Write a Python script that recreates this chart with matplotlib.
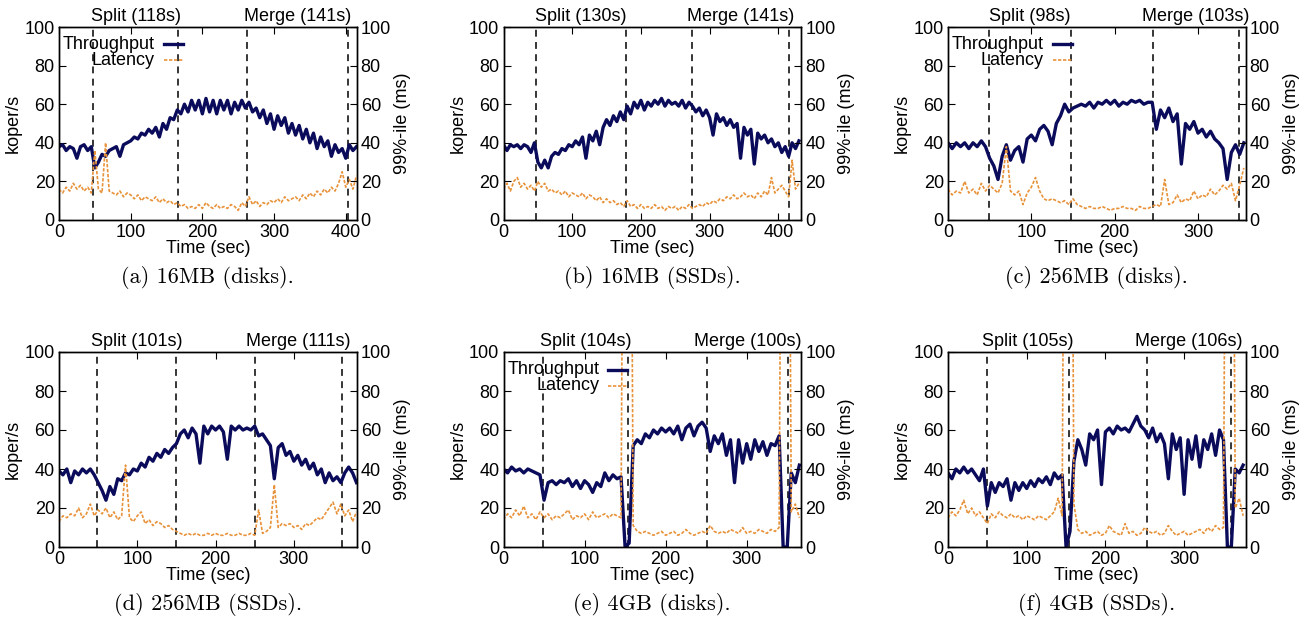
import numpy as np
import matplotlib
matplotlib.use('Agg')
import matplotlib.pyplot as plt
import matplotlib.transforms as mtransforms

plt.rcParams['font.family'] = ['Liberation Sans', 'DejaVu Sans']
plt.rcParams['font.size'] = 13

NAVY = '#0b0b5c'
ORANGE = '#e8923a'
STEP = 5  # seconds between samples

# (a) 16MB (disks)
thr_a = [38, 39, 36, 38, 37, 32, 38, 39, 36, 38, 27, 30, 34, 33, 36, 37, 38, 33, 39, 40,
         41, 43, 42, 45, 44, 47, 45, 48, 43, 50, 47, 53, 52, 57, 55, 60, 56, 62, 57, 62,
         55, 63, 56, 62, 55, 62, 57, 62, 55, 61, 57, 62, 58, 61, 56, 58, 53, 57, 50, 55,
         47, 54, 49, 53, 45, 50, 44, 49, 42, 47, 40, 45, 37, 43, 38, 41, 33, 39, 35, 37,
         32, 39, 36, 38]
lat_a = [16, 14, 17, 15, 19, 16, 18, 15, 17, 14, 36, 16, 14, 40, 15, 14, 13, 15, 12, 14,
         13, 11, 13, 10, 12, 11, 10, 12, 9, 11, 9, 10, 8, 9, 7, 8, 6, 7, 6, 8,
         6, 9, 7, 6, 8, 6, 7, 6, 8, 7, 5, 9, 7, 12, 8, 10, 7, 9, 8, 10,
         9, 11, 9, 12, 10, 11, 12, 10, 13, 11, 14, 12, 15, 13, 16, 14, 17, 15, 19, 25,
         17, 21, 16, 23]

# (b) 16MB (SSDs)
thr_b = [39, 36, 39, 38, 39, 37, 39, 38, 35, 40, 30, 27, 31, 27, 33, 35, 34, 37, 36, 39,
         38, 41, 39, 43, 32, 44, 41, 46, 39, 48, 52, 49, 54, 51, 56, 52, 59, 55, 61, 58,
         62, 57, 61, 59, 62, 60, 63, 59, 62, 60, 61, 59, 62, 58, 61, 59, 56, 58, 54, 57,
         53, 44, 55, 51, 53, 49, 52, 48, 50, 32, 48, 44, 47, 29, 45, 42, 44, 40, 42, 38,
         40, 35, 38, 33, 40, 37, 41]
lat_b = [16, 19, 15, 20, 22, 17, 19, 16, 18, 15, 20, 17, 19, 15, 16, 14, 15, 13, 15, 12,
         14, 13, 12, 14, 11, 13, 12, 10, 12, 9, 11, 9, 10, 8, 9, 7, 10, 7, 8, 6,
         8, 6, 7, 6, 8, 6, 7, 5, 7, 6, 7, 5, 7, 6, 8, 6, 7, 8, 7, 9,
         8, 10, 9, 11, 10, 12, 11, 13, 11, 12, 14, 12, 13, 11, 14, 12, 15, 13, 22, 14,
         16, 18, 15, 12, 31, 16, 19]

# (c) 256MB (disks)
thr_c = [40, 37, 40, 38, 40, 37, 40, 38, 41, 38, 32, 28, 21, 33, 39, 31, 36, 38, 30, 42,
         44, 41, 47, 49, 46, 39, 50, 54, 60, 56, 58, 59, 60, 59, 61, 58, 61, 60, 62, 60,
         62, 59, 61, 60, 62, 61, 62, 60, 61, 61, 47, 57, 53, 58, 51, 55, 29, 50, 47, 51,
         45, 47, 43, 46, 42, 40, 37, 21, 35, 39, 34, 40]
lat_c = [16, 13, 15, 14, 20, 14, 16, 13, 19, 15, 18, 16, 14, 19, 38, 15, 13, 15, 8, 14,
         17, 22, 15, 11, 10, 11, 10, 9, 10, 8, 11, 8, 7, 6, 7, 6, 6, 7, 6, 5,
         6, 6, 7, 6, 6, 5, 7, 6, 6, 7, 8, 7, 21, 8, 9, 13, 9, 11, 10, 15,
         11, 13, 12, 16, 13, 15, 18, 16, 19, 10, 18, 27]

# (d) 256MB (SSDs)
thr_d = [39, 37, 40, 33, 39, 37, 40, 38, 40, 37, 33, 29, 24, 31, 27, 35, 34, 38, 37, 40,
         39, 43, 41, 46, 44, 48, 46, 50, 48, 51, 53, 58, 60, 56, 61, 58, 43, 62, 58, 62,
         60, 62, 59, 45, 62, 60, 62, 60, 61, 60, 62, 57, 58, 55, 52, 35, 51, 53, 47, 49,
         44, 47, 42, 45, 40, 43, 37, 40, 33, 38, 34, 36, 33, 38, 41, 38, 33]
lat_d = [13, 16, 15, 17, 16, 20, 15, 17, 22, 16, 19, 17, 20, 15, 18, 14, 16, 42, 15, 13,
         16, 18, 12, 14, 11, 13, 12, 10, 11, 9, 8, 7, 6, 7, 6, 7, 6, 6, 7, 6,
         7, 6, 6, 7, 6, 6, 7, 6, 6, 7, 6, 19, 7, 8, 10, 32, 10, 12, 11, 12,
         10, 11, 9, 12, 11, 13, 15, 14, 17, 20, 23, 17, 22, 16, 19, 13, 18]

# (e) 4GB (disks)
thr_e = [40, 38, 41, 39, 40, 38, 40, 39, 38, 37, 24, 33, 34, 32, 34, 33, 35, 31, 34, 30,
         34, 32, 28, 33, 31, 38, 34, 37, 35, 36, 0, 2, 52, 55, 53, 58, 56, 60, 58, 61,
         59, 61, 58, 62, 55, 61, 63, 57, 62, 64, 61, 49, 57, 53, 58, 47, 55, 33, 55, 43,
         53, 45, 55, 49, 54, 47, 53, 52, 57, 0, 0, 38, 33, 42]
lat_e = [14, 17, 15, 19, 16, 21, 15, 17, 14, 18, 15, 17, 14, 16, 15, 17, 19, 14, 16, 15,
         17, 14, 18, 15, 16, 17, 15, 17, 16, 15, 400, 400, 11, 8, 7, 8, 7, 6, 7, 8,
         6, 7, 8, 6, 7, 9, 7, 6, 7, 8, 7, 11, 8, 7, 8, 7, 9, 8, 7, 10,
         7, 8, 7, 9, 8, 7, 9, 8, 10, 400, 400, 18, 22, 15]

# (f) 4GB (SSDs)
thr_f = [38, 35, 40, 38, 41, 38, 40, 37, 34, 40, 21, 33, 28, 33, 31, 35, 24, 33, 29, 33,
         30, 34, 31, 35, 33, 36, 32, 38, 35, 37, 0, 8, 44, 55, 50, 42, 58, 55, 60, 32,
         59, 61, 58, 62, 60, 61, 59, 63, 67, 62, 60, 56, 61, 54, 58, 53, 35, 58, 50, 56,
         27, 55, 45, 57, 41, 55, 50, 58, 47, 60, 55, 0, 0, 40, 38, 42]
lat_f = [15, 18, 16, 19, 24, 17, 20, 16, 18, 15, 12, 17, 15, 18, 16, 15, 17, 15, 16, 14,
         16, 15, 14, 16, 15, 14, 16, 18, 25, 16, 400, 400, 22, 9, 7, 8, 6, 7, 8, 6,
         7, 11, 8, 7, 6, 12, 7, 8, 6, 7, 10, 8, 7, 8, 6, 7, 11, 8, 6, 7,
         8, 6, 7, 8, 9, 7, 10, 8, 11, 9, 10, 400, 400, 20, 25, 16]

throughput = [thr_a, thr_b, thr_c, thr_d, thr_e, thr_f]
latency = [lat_a, lat_b, lat_c, lat_d, lat_e, lat_f]
x_max = [415, 433, 357, 380, 367, 378]
# split start/end, merge start/end (sec)
phase_times = [[48, 166, 262, 403],
               [48, 178, 274, 415],
               [49, 147, 246, 349],
               [49, 150, 250, 361],
               [49, 153, 251, 351],
               [49, 154, 253, 359]]
split_labels = ['Split (118s)', 'Split (130s)', 'Split (98s)',
                'Split (101s)', 'Split (104s)', 'Split (105s)']
merge_labels = ['Merge (141s)', 'Merge (141s)', 'Merge (103s)',
                'Merge (111s)', 'Merge (100s)', 'Merge (106s)']
captions = ['(a) 16MB (disks).', '(b) 16MB (SSDs).', '(c) 256MB (disks).',
            '(d) 256MB (SSDs).', '(e) 4GB (disks).', '(f) 4GB (SSDs).']
with_legend = [True, False, True, False, True, False]

W, H = 1313, 627
fig = plt.figure(figsize=(W / 100, H / 100), dpi=100)

col_left = [59, 503.5, 948]
row_top = [27, 352]
row_h = [193, 195]
ax_w = 297.5


def draw_panel(ax, thr, lat, lines, xmax, split_txt, merge_txt, legend):
    ax2 = ax.twinx()
    for x in lines:
        ax.axvline(x, color='black', lw=1.1, ls=(0, (4.5, 3.5)), zorder=1)
    ax.plot(np.arange(len(thr)) * STEP, thr, color=NAVY, lw=2.4, zorder=2)
    ax2.plot(np.arange(len(lat)) * STEP, lat, color=ORANGE, lw=1.2,
             ls=(0, (2, 1)))

    for a in (ax, ax2):
        a.set_xlim(0, xmax)
        a.set_ylim(0, 100)
        a.set_yticks(range(0, 101, 20))
        for s in a.spines.values():
            s.set_linewidth(1.0)
    ax.set_xticks(range(0, int(xmax) + 1, 100))
    ax.tick_params(direction='in', length=5, width=0.8, top=True, pad=3)
    ax2.tick_params(direction='in', length=5, width=0.8, pad=3)

    ax.set_xlabel('Time (sec)', labelpad=-1)
    ax.set_ylabel('koper/s', labelpad=2)
    ax2.set_ylabel('99%-ile (ms)', labelpad=2)

    trans = mtransforms.blended_transform_factory(ax.transData, ax.transAxes)
    ax.text((lines[0] + lines[1]) / 2, 1.01, split_txt, transform=trans,
            ha='center', va='bottom')
    ax.text((lines[2] + lines[3]) / 2, 1.01, merge_txt, transform=trans,
            ha='center', va='bottom')

    if legend:
        ax2.text(0.322, 0.91, 'Throughput', transform=ax2.transAxes,
                 ha='right', va='center')
        ax2.plot([0.352, 0.416], [0.91, 0.91], transform=ax2.transAxes,
                 color=NAVY, lw=2.4)
        ax2.text(0.322, 0.828, 'Latency', transform=ax2.transAxes,
                 ha='right', va='center')
        ax2.plot([0.352, 0.416], [0.828, 0.828], transform=ax2.transAxes,
                 color=ORANGE, lw=1.2, ls=(0, (2, 1)))


for i in range(6):
    r, c = divmod(i, 3)
    left = col_left[c] / W
    bottom = 1 - (row_top[r] + row_h[r]) / H
    ax = fig.add_axes([left, bottom, ax_w / W, row_h[r] / H])
    draw_panel(ax, throughput[i], latency[i], phase_times[i], x_max[i],
               split_labels[i], merge_labels[i], with_legend[i])
    cap_y = 1 - (row_top[r] + row_h[r] + 58) / H
    fig.text(left + ax_w / W / 2, cap_y, captions[i], ha='center', va='center',
             fontsize=16, family='cmr10')

fig.savefig('out.png', dpi=100)
